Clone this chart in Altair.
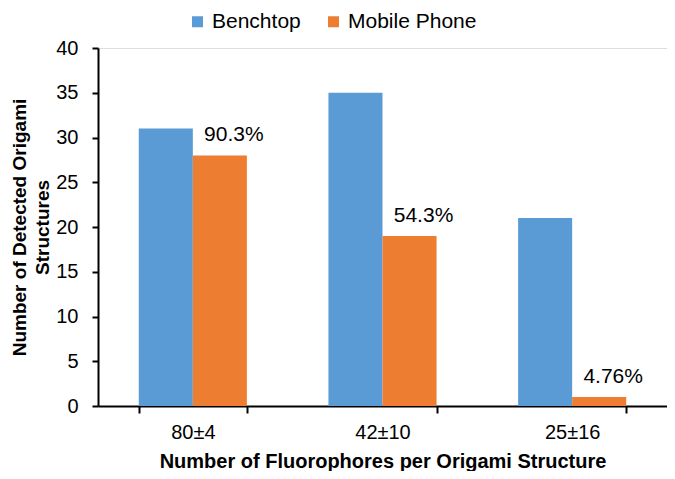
import altair as alt
import pandas as pd

categories = ["80±4", "42±10", "25±16"]
series = ["Benchtop", "Mobile Phone"]
benchtop = [31, 35, 21]
mobile = [28, 19, 1]
pct_labels = ["90.3%", "54.3%", "4.76%"]

rows = []
for c, b in zip(categories, benchtop):
    rows.append({"cat": c, "series": "Benchtop", "value": b})
for c, m in zip(categories, mobile):
    rows.append({"cat": c, "series": "Mobile Phone", "value": m})
df = pd.DataFrame(rows)

lab = pd.DataFrame({"cat": categories, "series": ["Mobile Phone"] * 3,
                    "value": mobile, "label": pct_labels})

FONT = "Liberation Sans"

x = alt.X("cat:N", sort=categories,
          scale=alt.Scale(paddingInner=0.43, paddingOuter=0.215),
          axis=alt.Axis(title="Number of Fluorophores per Origami Structure",
                        labelAngle=0, tickBand="extent", domainColor="black",
                        domainWidth=2, tickColor="black", tickWidth=2, tickSize=7,
                        labelFontSize=20, labelColor="black", labelPadding=9,
                        titleFontSize=20, titleFontWeight="bold", titleColor="black",
                        titlePadding=9, labelFont=FONT, titleFont=FONT))
xo = alt.XOffset("series:N", scale=alt.Scale(domain=series, paddingInner=0, paddingOuter=0))

bars = alt.Chart(df).mark_bar().encode(
    x=x,
    xOffset=xo,
    y=alt.Y("value:Q", scale=alt.Scale(domain=[0, 40], nice=False),
            axis=alt.Axis(values=list(range(0, 41, 5)), grid=False,
                          title=["Number of Detected Origami", "Structures"],
                          domainColor="black", domainWidth=2, tickColor="black",
                          tickWidth=2, tickSize=6, labelFontSize=20, labelColor="black",
                          labelPadding=14, titleFontSize=19, titleFontWeight="bold",
                          titleColor="black", titleLineHeight=23, titleX=-79,
                          titleBaseline="middle", labelFont=FONT, titleFont=FONT)),
    color=alt.Color("series:N", scale=alt.Scale(domain=series, range=["#5B9BD5", "#ED7D31"]),
                    legend=alt.Legend(title=None, orient="none", direction="horizontal",
                                      legendX=89, legendY=-37, symbolType="square",
                                      symbolSize=121, symbolStrokeWidth=0,
                                      labelFontSize=21, labelColor="black", labelFont=FONT,
                                      columnPadding=22, labelOffset=4)),
)

text = alt.Chart(lab).mark_text(align="center", baseline="bottom", dx=14, dy=-10,
                                fontSize=21, font=FONT, color="black").encode(
    x=alt.X("cat:N", sort=categories),
    xOffset=alt.XOffset("series:N"),
    y="value:Q",
    text="label:N",
)

chart = alt.layer(bars, text).properties(
    width=569, height=358,
    autosize=alt.AutoSizeParams(type="none"),
    padding={"left": 90, "top": 40, "right": 0, "bottom": 65},
).configure_view(stroke=None).configure(background="white")

chart.save("out.html", embed_options={"renderer": "svg", "actions": False})
